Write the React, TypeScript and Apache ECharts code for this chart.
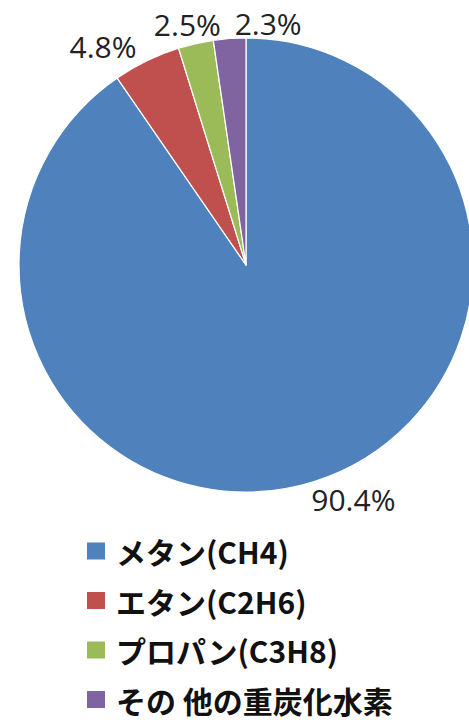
import React, { useEffect, useRef } from "react";
import * as echarts from "echarts";

const categories = ["メタン(CH4)", "エタン(C2H6)", "プロパン(C3H8)", "その 他の重炭化水素"];
const values = [90.4, 4.8, 2.5, 2.3];
const colors = ["#4F81BD", "#C0504D", "#9BBB59", "#8064A2"];

// layout: pie geometry and per-label nudges (pixels) relative to the mid-angle anchor
const CX = 246;
const CY = 265;
const R = 227;
const LABEL_GAP = 20;
const labelNudge: [number, number][] = [
  [34, -1],
  [-35, 4],
  [-4, 0],
  [40, 5],
];

export default function App() {
  const ref = useRef<HTMLDivElement>(null);
  useEffect(() => {
    if (!ref.current) return;
    const chart = echarts.init(ref.current, null, { renderer: "svg" });
    const total = values.reduce((a, b) => a + b, 0);
    const mids: number[] = [];
    let acc = 0;
    values.forEach((v) => {
      const a0 = (acc / total) * 360;
      acc += v;
      const a1 = (acc / total) * 360;
      mids.push(((a0 + a1) / 2) * (Math.PI / 180));
    });
    chart.setOption({
      animation: false,
      color: colors,
      legend: {
        orient: "vertical",
        left: 85,
        top: 536,
        padding: 0,
        itemWidth: 20,
        itemHeight: 19,
        itemGap: 19.5,
        icon: "rect",
        data: categories,
        textStyle: {
          fontFamily: "Noto Sans CJK JP",
          fontSize: 30,
          fontWeight: "bold",
          color: "#111",
          lineHeight: 30,
          padding: [0, 0, 0, 5],
        },
      },
      series: [
        {
          type: "pie",
          center: [CX, CY],
          radius: R,
          startAngle: 90,
          clockwise: true,
          data: categories.map((c, i) => ({ name: c, value: values[i] })),
          itemStyle: { borderColor: "#fff", borderWidth: 1.2 },
          label: {
            show: true,
            position: "outside",
            formatter: (p: any) => p.value.toFixed(1) + "%",
            fontFamily: "Open Sans",
            fontSize: 30,
            color: "#222",
          },
          labelLine: { show: false, length: 8, length2: 0 },
          labelLayout: (params: any) => {
            const i = params.dataIndex;
            const m = mids[i];
            const d = R + LABEL_GAP;
            return {
              x: CX + d * Math.sin(m) + labelNudge[i][0],
              y: CY - d * Math.cos(m) + labelNudge[i][1],
              align: "center",
              verticalAlign: "middle",
            };
          },
          emphasis: { disabled: true },
        },
      ],
    });
    return () => chart.dispose();
  }, []);
  return (
    <div
      ref={ref}
      style={{ position: "fixed", left: 0, top: 0, width: 469, height: 724, background: "#fff" }}
    />
  );
}
